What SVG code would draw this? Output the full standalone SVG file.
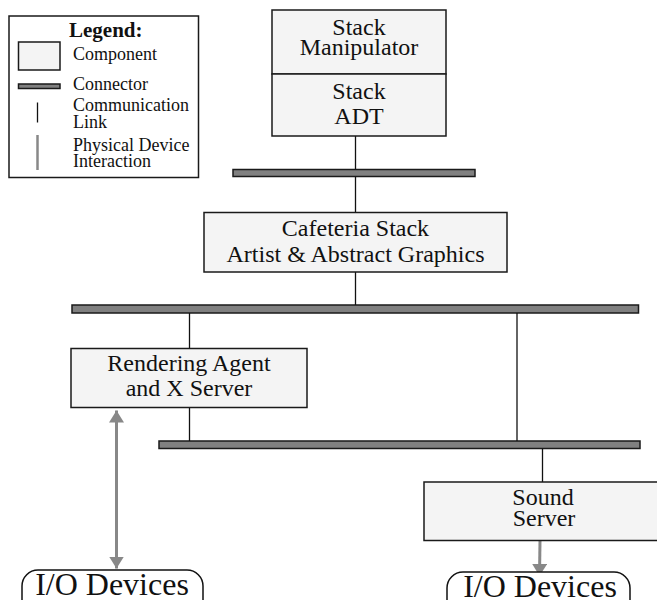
<svg xmlns="http://www.w3.org/2000/svg" width="657" height="600" viewBox="0 0 657 600">
<style>
.box{fill:#f4f4f4;stroke:#1a1a1a;stroke-width:1.5}
.bus{fill:#808080;stroke:#1a1a1a;stroke-width:1.5}
.link{stroke:#111;stroke-width:1.3;fill:none}
.phys{stroke:#888;stroke-width:3;fill:none}
.io{fill:#fff;stroke:#111;stroke-width:1.5}
text{font-family:"Liberation Serif","Times New Roman",serif;fill:#111}
.t{font-size:24px;text-anchor:middle}
.lg{font-size:18px}
.iot{font-size:32px;text-anchor:middle}
</style>
<defs>
<marker id="ah" markerUnits="userSpaceOnUse" markerWidth="13" markerHeight="16" refX="12" refY="7.5" orient="auto-start-reverse" viewBox="0 0 13 16">
<path d="M0,0 L12,7.5 L0,15 z" fill="#888"/>
</marker>
</defs>
<rect width="657" height="600" fill="#fff"/>
<g id="legend">
<rect x="9" y="16" width="189.5" height="161.5" fill="#fff" stroke="#1a1a1a" stroke-width="1.5"/>
<text x="69" y="36.5" style="font-size:21px;font-weight:bold">Legend:</text>
<rect class="box" x="18.5" y="42" width="41.5" height="28"/>
<text class="lg" x="73" y="60">Component</text>
<rect class="bus" x="18.5" y="84" width="41.5" height="4.5"/>
<text class="lg" x="73" y="90">Connector</text>
<line class="link" x1="37.5" y1="102.5" x2="37.5" y2="122.5"/>
<text class="lg" x="73" y="111">Communication</text>
<text class="lg" x="73" y="128">Link</text>
<line x1="37.5" y1="135" x2="37.5" y2="170" stroke="#888" stroke-width="2.5"/>
<text class="lg" x="73" y="150.5">Physical Device</text>
<text class="lg" x="73" y="166.5">Interaction</text>
</g>
<g id="connectors">
<rect class="bus" x="233" y="169.5" width="242" height="7"/>
<rect class="bus" x="72" y="305" width="566.5" height="8"/>
<rect class="bus" x="159" y="441" width="481" height="7.5"/>
<line class="link" x1="355.5" y1="136" x2="355.5" y2="169.5"/>
<line class="link" x1="355.5" y1="176.5" x2="355.5" y2="212.5"/>
<line class="link" x1="355.5" y1="272" x2="355.5" y2="305"/>
<line class="link" x1="189.5" y1="313" x2="189.5" y2="348.5"/>
<line class="link" x1="189.5" y1="407.5" x2="189.5" y2="441"/>
<line class="link" x1="517" y1="313" x2="517" y2="441"/>
<line class="link" x1="542.5" y1="448.5" x2="542.5" y2="482"/>
<line class="phys" x1="116.5" y1="410.5" x2="116.5" y2="568.5" marker-start="url(#ah)" marker-end="url(#ah)"/>
<line class="phys" x1="540" y1="541" x2="539.5" y2="576" marker-end="url(#ah)"/>
</g>
<g id="stack-manipulator">
<rect class="box" x="272" y="10" width="174" height="64"/>
<text class="t" x="359" y="35">Stack</text>
<text class="t" x="359" y="55">Manipulator</text>
</g>
<g id="stack-adt">
<rect class="box" x="272" y="74" width="174" height="62"/>
<text class="t" x="359" y="99">Stack</text>
<text class="t" x="359" y="124">ADT</text>
</g>
<g id="cafeteria">
<rect class="box" x="204" y="212.5" width="303" height="59.5"/>
<text class="t" x="355.5" y="235.5">Cafeteria Stack</text>
<text class="t" x="355.5" y="261.5">Artist &amp; Abstract Graphics</text>
</g>
<g id="rendering-agent">
<rect class="box" x="71" y="348.5" width="236" height="59"/>
<text class="t" x="189" y="370.5">Rendering Agent</text>
<text class="t" x="189" y="396">and X Server</text>
</g>
<g id="sound-server">
<rect class="box" x="424" y="482" width="240" height="58.5"/>
<text class="t" x="543" y="505">Sound</text>
<text class="t" x="544" y="526">Server</text>
</g>
<g id="io-left">
<rect class="io" x="22" y="570" width="181" height="50" rx="16"/>
<text class="iot" x="112" y="595">I/O Devices</text>
</g>
<g id="io-right">
<rect class="io" x="447" y="572" width="183" height="50" rx="16"/>
<text class="iot" x="540" y="597">I/O Devices</text>
</g>
</svg>
